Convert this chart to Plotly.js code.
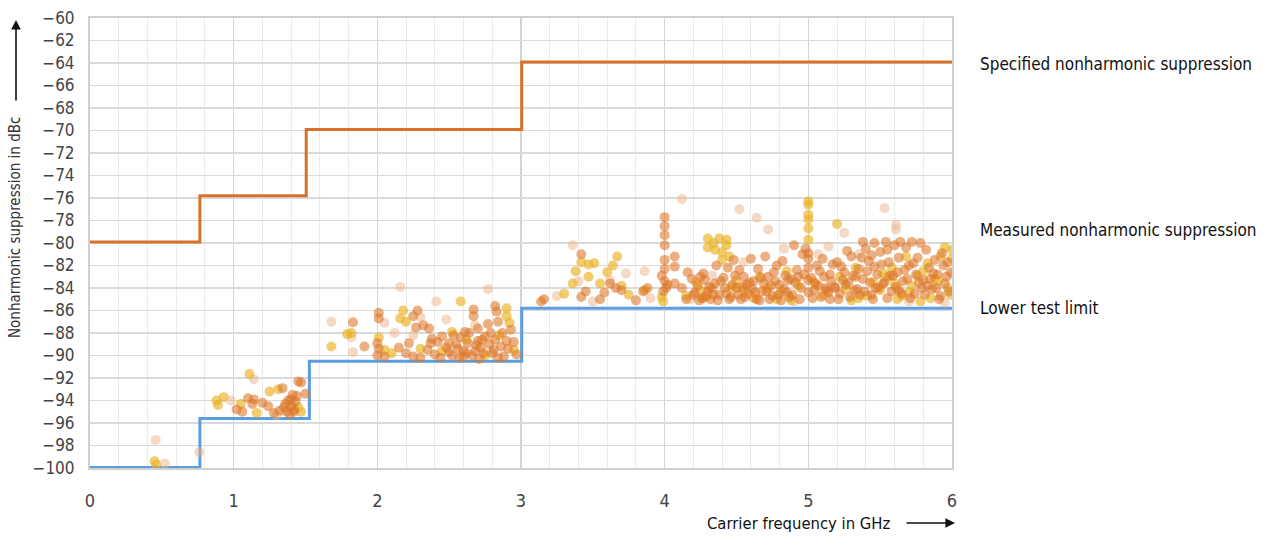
<!DOCTYPE html>
<html><head><meta charset="utf-8">
<script src="https://cdn.plot.ly/plotly-3.0.1.min.js"></script>
<style>html,body{margin:0;padding:0;background:#fff}#chart{width:1271px;height:541px}</style>
</head><body><div id="chart"></div>
<script>
// Step lines
const specX = [0, 0.765, 1.505, 3.005, 6];
const specY = [-79.9, -75.8, -69.9, -63.9, -63.9];
const limitX = [0, 0.765, 1.527, 3.005, 6];
const limitY = [-99.95, -95.6, -90.5, -85.8, -85.8];

// Measured points – strong orange
const orangeX = [1.02,1.06,1.1,1.13,1.14,1.2,1.24,1.28,1.32,1.34,1.35,1.38,1.4,1.41,1.42,1.43,1.45,1.47,1.44,1.5,1.39,1.36,
 1.83,1.91,2.01,2.01,2.0,2.01,2.0,2.25,2.28,2.27,2.32,2.36,2.38,2.67,2.67,2.82,2.83,2.84,2.93,2.2,2.25,2.35,2.4,2.48,2.55,2.58,2.6,2.64,2.66,2.7,2.72,2.75,2.78,2.8,2.82,2.86,2.88,2.9,2.7,2.62,2.53,2.15,2.42,2.97,
 2.05,2.22,2.3,2.37,2.44,2.5,2.57,2.63,2.69,2.74,2.79,2.84,2.91,2.95,2.71,2.52,
 3.14,3.16,3.42,3.42,3.58,3.62,3.66,3.7,3.85,3.88,4.0,4.0,4.0,4.0,4.0,4.0,3.98,4.0,4.02,3.99,4.01,4.07,4.07,4.07,3.55,3.45,3.8,
 4.12,4.2,4.23,4.26,4.28,4.3,4.32,4.35,4.38,4.42,4.44,4.46,4.48,4.5,4.52,4.55,4.58,4.6,4.62,4.65,4.68,4.7,4.72,4.75,4.78,4.8,4.82,4.85,4.88,4.9,4.92,4.96,4.98,4.95,5.0,5.0,5.0,5.0,5.0,4.64,4.36,4.16,
 5.05,5.08,5.1,5.12,5.15,5.18,5.2,5.22,5.25,5.28,5.3,5.32,5.35,5.38,5.38,5.4,5.42,5.44,5.46,5.48,5.5,5.52,5.54,5.56,5.58,5.6,5.62,5.64,5.66,5.68,5.7,5.72,5.74,5.76,5.78,5.8,5.82,5.84,5.86,5.88,5.9,5.92,5.94,5.96,5.98,5.27,5.45,5.15,
 4.15,4.19,4.24,4.27,4.33,4.37,4.41,4.45,4.49,4.53,4.57,4.61,4.66,4.69,4.73,4.77,4.81,4.84,4.87,4.91,4.94,4.97,5.03,5.06,5.11,5.14,5.17,5.21,5.24,5.29,5.33,5.36,5.41,5.47,5.51,5.55,5.59,5.63,5.67,5.71,5.75,5.79,5.83,5.87,5.91,5.93,5.97,5.55,5.44,5.63,
 4.21,4.25,4.29,4.31,4.34,4.39,4.43,4.47,4.51,4.54,4.56,4.59,4.63,4.67,4.71,4.74,4.76,4.79,4.83,4.86,4.89,4.93,5.02,5.04,5.07,5.09,5.13,5.16,5.19,5.23,5.26,5.31,5.34,5.37,5.39,5.43,5.46,5.49,5.53,5.57,5.61,5.65,5.69,5.73,5.77,5.81,5.85,5.89,5.95,5.99,
 2.45,2.56,2.61,2.68,2.73,2.77,2.81,2.87,2.6,2.5,1.42,1.4,1.37];
const orangeY = [-94.8,-95.0,-93.8,-94.3,-93.9,-94.2,-94.5,-95.1,-94.9,-92.9,-94.6,-94.0,-94.5,-93.5,-95.0,-94.1,-92.3,-92.4,-93.6,-93.4,-95.2,-94.3,
 -87.05,-89.2,-86.2,-86.7,-88.9,-89.4,-90.0,-86.5,-86.0,-87.5,-87.3,-87.6,-88.5,-85.9,-86.5,-85.6,-86.1,-87.0,-87.7,-89.8,-90.1,-89.5,-89.9,-89.3,-89.0,-88.4,-89.6,-88.0,-90.0,-88.7,-89.3,-88.3,-89.0,-89.8,-88.6,-89.2,-90.1,-88.7,-87.6,-89.8,-88.2,-89.3,-88.8,-89.9,
 -90.1,-88.9,-90.2,-88.9,-90.2,-89.7,-90.2,-88.9,-89.1,-89.8,-88.0,-90.2,-89.4,-88.8,-90.3,-90.0,
 -85.2,-85.0,-81.0,-84.8,-84.4,-83.6,-84.0,-84.2,-84.3,-84.0,-77.7,-78.5,-79.3,-80.2,-81.5,-82.3,-82.9,-83.4,-83.7,-84.3,-84.0,-81.2,-82.1,-83.6,-85.0,-84.3,-85.1,
 -84.0,-84.6,-83.8,-84.9,-83.3,-84.3,-85.0,-83.6,-84.6,-84.0,-82.2,-84.8,-81.5,-84.0,-82.4,-83.0,-84.5,-81.4,-83.4,-82.3,-84.3,-81.2,-83.0,-84.7,-82.0,-83.7,-81.6,-84.4,-83.2,-80.2,-82.4,-81.0,-80.5,-84.0,-80.9,-81.4,-82.2,-83.3,-84.4,-85.0,-82.0,-82.6,
 -83.6,-82.5,-81.4,-84.0,-82.8,-83.9,-81.7,-84.5,-82.6,-83.5,-81.2,-84.2,-82.3,-79.9,-83.2,-80.5,-81.6,-84.6,-80.0,-82.8,-80.8,-83.6,-79.9,-81.7,-84.3,-80.2,-82.6,-79.9,-83.4,-80.4,-82.0,-79.9,-84.5,-81.3,-80.0,-83.3,-80.6,-82.2,-84.1,-81.5,-82.8,-84.7,-82.0,-83.0,-84.3,-80.7,-85.0,-85.0,
 -85.0,-83.2,-85.1,-82.7,-84.0,-85.1,-83.1,-85.0,-82.9,-85.0,-83.7,-84.1,-85.1,-83.6,-85.0,-83.4,-85.1,-82.9,-84.8,-83.5,-85.0,-82.8,-84.9,-82.0,-83.0,-84.4,-81.9,-85.0,-83.3,-84.8,-83.0,-84.6,-82.5,-84.0,-81.9,-84.9,-82.9,-84.2,-82.4,-84.9,-82.8,-84.0,-83.8,-82.7,-85.0,-80.9,-81.7,-80.6,-81.1,-81.3,
 -84.4,-83.0,-84.7,-83.9,-84.6,-83.4,-84.5,-83.7,-84.6,-83.9,-84.8,-83.5,-84.4,-83.1,-84.3,-83.8,-82.6,-84.6,-84.1,-83.3,-84.6,-83.0,-83.1,-84.2,-83.8,-84.8,-84.2,-83.4,-84.0,-82.1,-83.7,-82.9,-84.1,-81.3,-84.3,-83.5,-82.1,-84.0,-83.5,-82.9,-83.9,-84.5,-83.2,-81.8,-83.5,-84.6,-83.2,-84.0,-83.6,-82.6,
 -88.3,-89.4,-87.9,-89.6,-88.6,-87.2,-89.5,-88.0,-90.1,-88.9,-94.8,-93.9,-95.0];

// Measured points – yellow
const yellowX = [0.45,0.46,
 0.88,0.89,0.93,1.11,1.05,1.25,1.31,1.47,1.45,1.16,
 1.68,1.79,1.82,2.01,2.16,2.2,2.18,2.58,2.52,2.9,2.9,2.92,2.1,2.3,2.45,2.62,2.75,2.95,2.85,2.05,
 3.42,3.47,3.51,3.38,3.36,3.47,3.67,3.64,3.6,3.55,3.7,3.75,3.98,3.99,3.3,3.86,
 4.30,4.34,4.38,4.43,4.30,4.35,4.40,4.43,4.40,4.45,4.22,4.25,4.15,4.5,4.62,4.72,4.85,4.88,4.93,5.0,5.0,5.0,5.0,5.0,5.0,4.55,4.78,
 5.2,5.1,5.22,5.35,5.45,5.5,5.58,5.65,5.72,5.8,5.85,5.9,5.95,6.0,6.0,5.92,5.78,5.62,5.3,5.55,5.97,5.83,5.68,
 4.27,4.47,4.66,4.81,5.04,5.26,5.41,5.52,5.7,5.88,5.99,5.76,5.6,5.33];
const yellowY = [-99.4,-99.7,
 -94.0,-94.4,-93.7,-91.65,-94.3,-93.2,-93.0,-95.0,-94.6,-95.1,
 -89.2,-88.1,-88.0,-88.4,-86.7,-87.0,-86.0,-85.2,-87.9,-85.8,-86.5,-87.1,-89.8,-89.4,-89.6,-88.6,-90.0,-89.5,-88.2,-89.5,
 -81.7,-81.9,-81.8,-82.5,-83.6,-83.0,-81.2,-82.0,-82.6,-83.6,-83.8,-84.6,-84.8,-85.2,-84.5,-84.2,
 -79.6,-80.0,-79.6,-79.7,-80.4,-80.6,-80.8,-80.2,-81.5,-81.2,-83.5,-84.2,-84.7,-83.3,-84.9,-84.0,-82.5,-85.1,-83.8,-76.3,-76.6,-77.5,-77.9,-78.7,-79.7,-84.2,-85.0,
 -78.3,-84.6,-83.0,-84.9,-83.5,-84.2,-82.2,-84.7,-83.8,-82.5,-84.9,-83.4,-80.4,-80.6,-81.4,-81.2,-85.2,-85.0,-85.1,-83.0,-84.0,-81.8,-81.2,
 -84.9,-83.9,-83.0,-84.3,-83.5,-84.1,-84.7,-82.7,-84.4,-83.2,-84.6,-82.9,-83.6,-82.2];

// Measured points – pale
const paleX = [0.457,0.52,0.76,1.14,0.98,1.3,1.68,1.82,1.83,2.05,2.16,2.41,2.77,2.3,2.25,2.48,2.68,2.12,
 3.36,3.40,3.73,3.86,3.62,3.25,4.12,4.52,4.64,4.72,5.14,5.25,5.53,5.61,5.61,4.33,4.55,4.83,5.07,5.35,6.0,3.9,4.9,5.7,4.18,3.5,5.95];
const paleY = [-97.5,-99.6,-98.6,-92.1,-94.0,-95.3,-87.0,-88.4,-89.7,-87.1,-83.9,-85.2,-84.1,-86.6,-88.2,-86.8,-87.3,-88.0,
 -80.2,-83.4,-82.7,-82.5,-83.3,-84.7,-76.1,-77.0,-77.75,-78.8,-80.3,-79.1,-76.9,-78.4,-78.8,-82.9,-81.7,-80.5,-81.0,-81.0,-82.8,-84.9,-85.2,-85.2,-85.0,-85.2,-85.3];

const xTicks = [0,1,2,3,4,5,6];
const yTicks = [-100,-98,-96,-94,-92,-90,-88,-86,-84,-82,-80,-78,-76,-74,-72,-70,-68,-66,-64,-62,-60];

const FONT = '"DejaVu Sans Condensed", "DejaVu Sans", sans-serif';
const W = 1271, H = 541, L = 90, R = 952, T = 18, B = 468;
const px = v => (v - L) / (R - L);
const py = v => (B - v) / (B - T);

const traces = [
  {x: specX, y: specY, mode: 'lines', line: {shape: 'hv', color: '#d8712a', width: 3}, hoverinfo: 'skip'},
  {x: limitX, y: limitY, mode: 'lines', line: {shape: 'hv', color: '#5b9ddf', width: 3}, hoverinfo: 'skip'},
  {x: paleX, y: paleY, mode: 'markers', marker: {size: 10, color: 'rgba(236,180,140,0.5)'}},
  {x: yellowX, y: yellowY, mode: 'markers', marker: {size: 10, color: 'rgba(233,178,35,0.65)'}},
  {x: orangeX, y: orangeY, mode: 'markers', marker: {size: 10, color: 'rgba(220,118,38,0.58)'}}
];

const layout = {
  width: W, height: H, showlegend: false,
  paper_bgcolor: '#fff', plot_bgcolor: '#fff',
  margin: {l: L, r: W - R, t: T, b: H - B},
  font: {family: FONT, color: '#444', size: 17},
  xaxis: {range: [0, 6], tickvals: xTicks, showgrid: true, gridcolor: '#d4d4d4', gridwidth: 1.5,
    minor: {dtick: 0.2, showgrid: true, gridcolor: '#ebebeb', gridwidth: 1},
    zeroline: false, showline: true, linecolor: '#cfcfcf', linewidth: 2, mirror: true,
    ticks: '', ticklabelstandoff: 15, tickfont: {size: 18, color: '#444', family: FONT}},
  yaxis: {range: [-100, -60], tickvals: yTicks, showgrid: true, gridcolor: '#dadada', gridwidth: 1.5,
    zeroline: false, showline: true, linecolor: '#cfcfcf', linewidth: 2, mirror: true,
    ticks: '', ticklabelstandoff: 10, tickfont: {size: 17, color: '#444', family: FONT}},
  annotations: [
    {xref: 'paper', yref: 'paper', x: px(15), y: py(228), text: 'Nonharmonic suppression in dBc', textangle: -90,
     showarrow: false, font: {size: 15, color: '#333', family: FONT}, xanchor: 'center', yanchor: 'middle'},
    {xref: 'paper', yref: 'paper', x: px(16), y: py(20), ax: 0, ay: 82, text: '', showarrow: true,
     arrowhead: 2, arrowsize: 1.2, arrowwidth: 1.6, arrowcolor: '#111'},
    {xref: 'paper', yref: 'paper', x: px(798), y: py(523), text: 'Carrier frequency in GHz',
     showarrow: false, font: {size: 16.5, color: '#111', family: FONT}, xanchor: 'center', yanchor: 'middle'},
    {xref: 'paper', yref: 'paper', x: px(955), y: py(523), ax: -50, ay: 0, text: '', showarrow: true,
     arrowhead: 2, arrowsize: 1.2, arrowwidth: 1.6, arrowcolor: '#111'},
    {xref: 'paper', yref: 'paper', x: px(978), y: py(64), text: 'Specified nonharmonic suppression',
     showarrow: false, xanchor: 'left', yanchor: 'middle', font: {size: 17, color: '#111', family: FONT}},
    {xref: 'paper', yref: 'paper', x: px(978), y: py(230), text: 'Measured nonharmonic suppression',
     showarrow: false, xanchor: 'left', yanchor: 'middle', font: {size: 17, color: '#111', family: FONT}},
    {xref: 'paper', yref: 'paper', x: px(978), y: py(308), text: 'Lower test limit',
     showarrow: false, xanchor: 'left', yanchor: 'middle', font: {size: 17, color: '#111', family: FONT}}
  ]
};

Plotly.newPlot('chart', traces, layout, {displayModeBar: false, staticPlot: true});
</script>
</body></html>
